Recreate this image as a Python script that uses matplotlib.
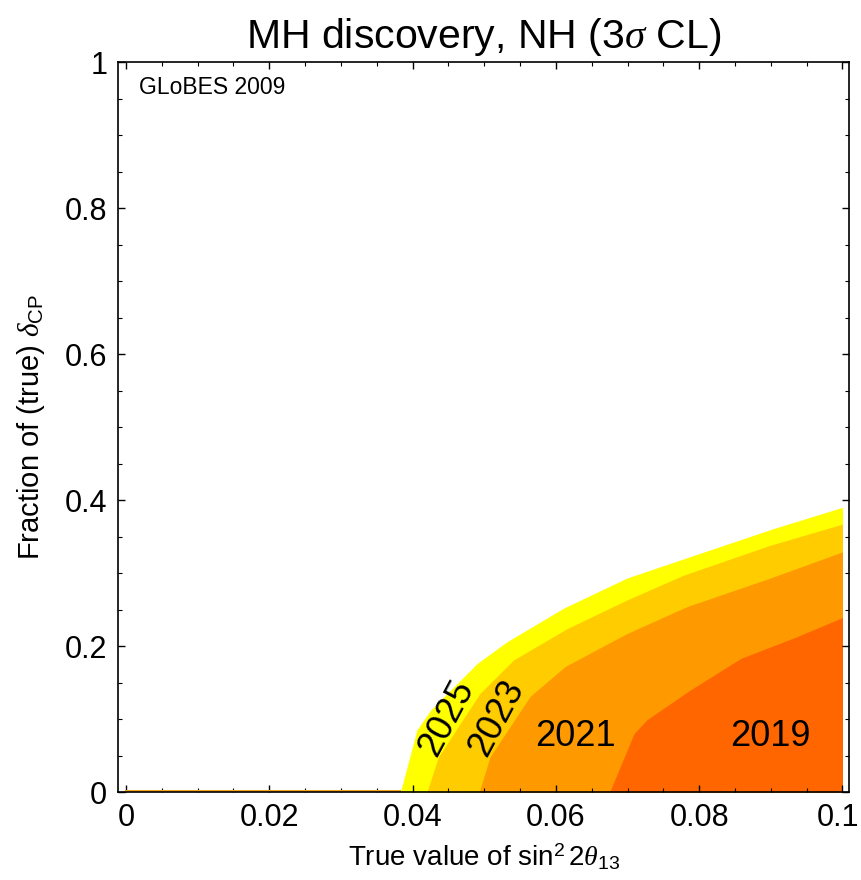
import matplotlib
matplotlib.use("Agg")
import matplotlib.pyplot as plt
import matplotlib.transforms as mtransforms
import numpy as np

plt.rcParams['font.family'] = ['Liberation Sans', 'DejaVu Sans']
plt.rcParams['mathtext.fontset'] = 'custom'
plt.rcParams['mathtext.rm'] = 'Liberation Sans'
plt.rcParams['mathtext.it'] = 'Liberation Serif:italic'

# boundaries of the discovery regions (true sin^2 2theta13, fraction of delta_CP)
x2025 = [0.0383, 0.0406, 0.0425, 0.0490, 0.0532, 0.0611, 0.0699, 0.0774, 0.0904, 0.1000]
y2025 = [0.0, 0.085, 0.112, 0.176, 0.206, 0.252, 0.293, 0.318, 0.361, 0.390]

x2023 = [0.0420, 0.0436, 0.0494, 0.0541, 0.0616, 0.0699, 0.0778, 0.0899, 0.1000]
y2023 = [0.0, 0.048, 0.135, 0.181, 0.224, 0.263, 0.297, 0.338, 0.367]

x2021 = [0.0493, 0.0508, 0.0564, 0.0613, 0.0699, 0.0783, 0.0899, 0.1000]
y2021 = [0.0, 0.048, 0.131, 0.172, 0.217, 0.254, 0.293, 0.329]

x2019 = [0.0675, 0.0709, 0.0727, 0.0788, 0.0858, 0.0937, 0.1000]
y2019 = [0.0, 0.080, 0.099, 0.140, 0.183, 0.213, 0.239]

regions = [
    ("2025", x2025, y2025, "#ffff00"),
    ("2023", x2023, y2023, "#ffcc00"),
    ("2021", x2021, y2021, "#ff9900"),
    ("2019", x2019, y2019, "#ff6600"),
]

fig = plt.figure(figsize=(8.61, 8.8), dpi=100)
ax = fig.add_axes([0.1376, 0.1, 0.8484, 0.8295])

for name, xs, ys, col in regions:
    ax.fill_between(xs, ys, 0, color=col, lw=0)

# thin line where the fraction is zero
ax.plot([0, x2025[0]], [0.0015, 0.0015], color="#f5a623", lw=1.5)

ax.text(0.0447, 0.101, "2025", rotation=62, fontsize=26, ha="center", va="center")
ax.text(0.0517, 0.101, "2023", rotation=62, fontsize=26, ha="center", va="center")
ax.text(0.0627, 0.076, "2021", fontsize=26, ha="center", va="center")
ax.text(0.0899, 0.076, "2019", fontsize=26, ha="center", va="center")

ax.text(0.0018, 0.965, "GLoBES 2009", fontsize=16.5, ha="left", va="center")

ax.set_xlim(-0.00105, 0.1009)
ax.set_ylim(0, 1)
ax.set_xticks([0, 0.02, 0.04, 0.06, 0.08, 0.1])
ax.set_xticklabels(["0", "0.02", "0.04", "0.06", "0.08", "0.1"])
ax.set_yticks([0, 0.2, 0.4, 0.6, 0.8, 1.0])
ax.set_yticklabels(["0", "0.2", "0.4", "0.6", "0.8", "1"])
ax.set_xticks(np.arange(0, 0.1001, 0.005), minor=True)
ax.set_yticks(np.arange(0, 1.001, 0.05), minor=True)
ax.tick_params(which="both", direction="in", top=True, right=True, labelsize=22, pad=8)
ax.tick_params(which="major", length=5, width=1)
ax.tick_params(which="minor", length=3, width=0.8)
for s in ax.spines.values():
    s.set_linewidth(1.2)

# keep the last x label inside the figure
last = ax.get_xticklabels()[-1]
last.set_transform(last.get_transform() + mtransforms.ScaledTranslation(-4 / 100, 0, fig.dpi_scale_trans))

ax.set_xlabel(r"True value of sin$^2\,2\theta_{13}$", fontsize=20, labelpad=6)
ax.set_ylabel(r"Fraction of (true) $\delta_{\rm CP}$", fontsize=21, labelpad=13)
ax.set_title(r"MH discovery, NH (3$\sigma$ CL)", fontsize=29.5, pad=10)

fig.savefig("out.png", dpi=100)
